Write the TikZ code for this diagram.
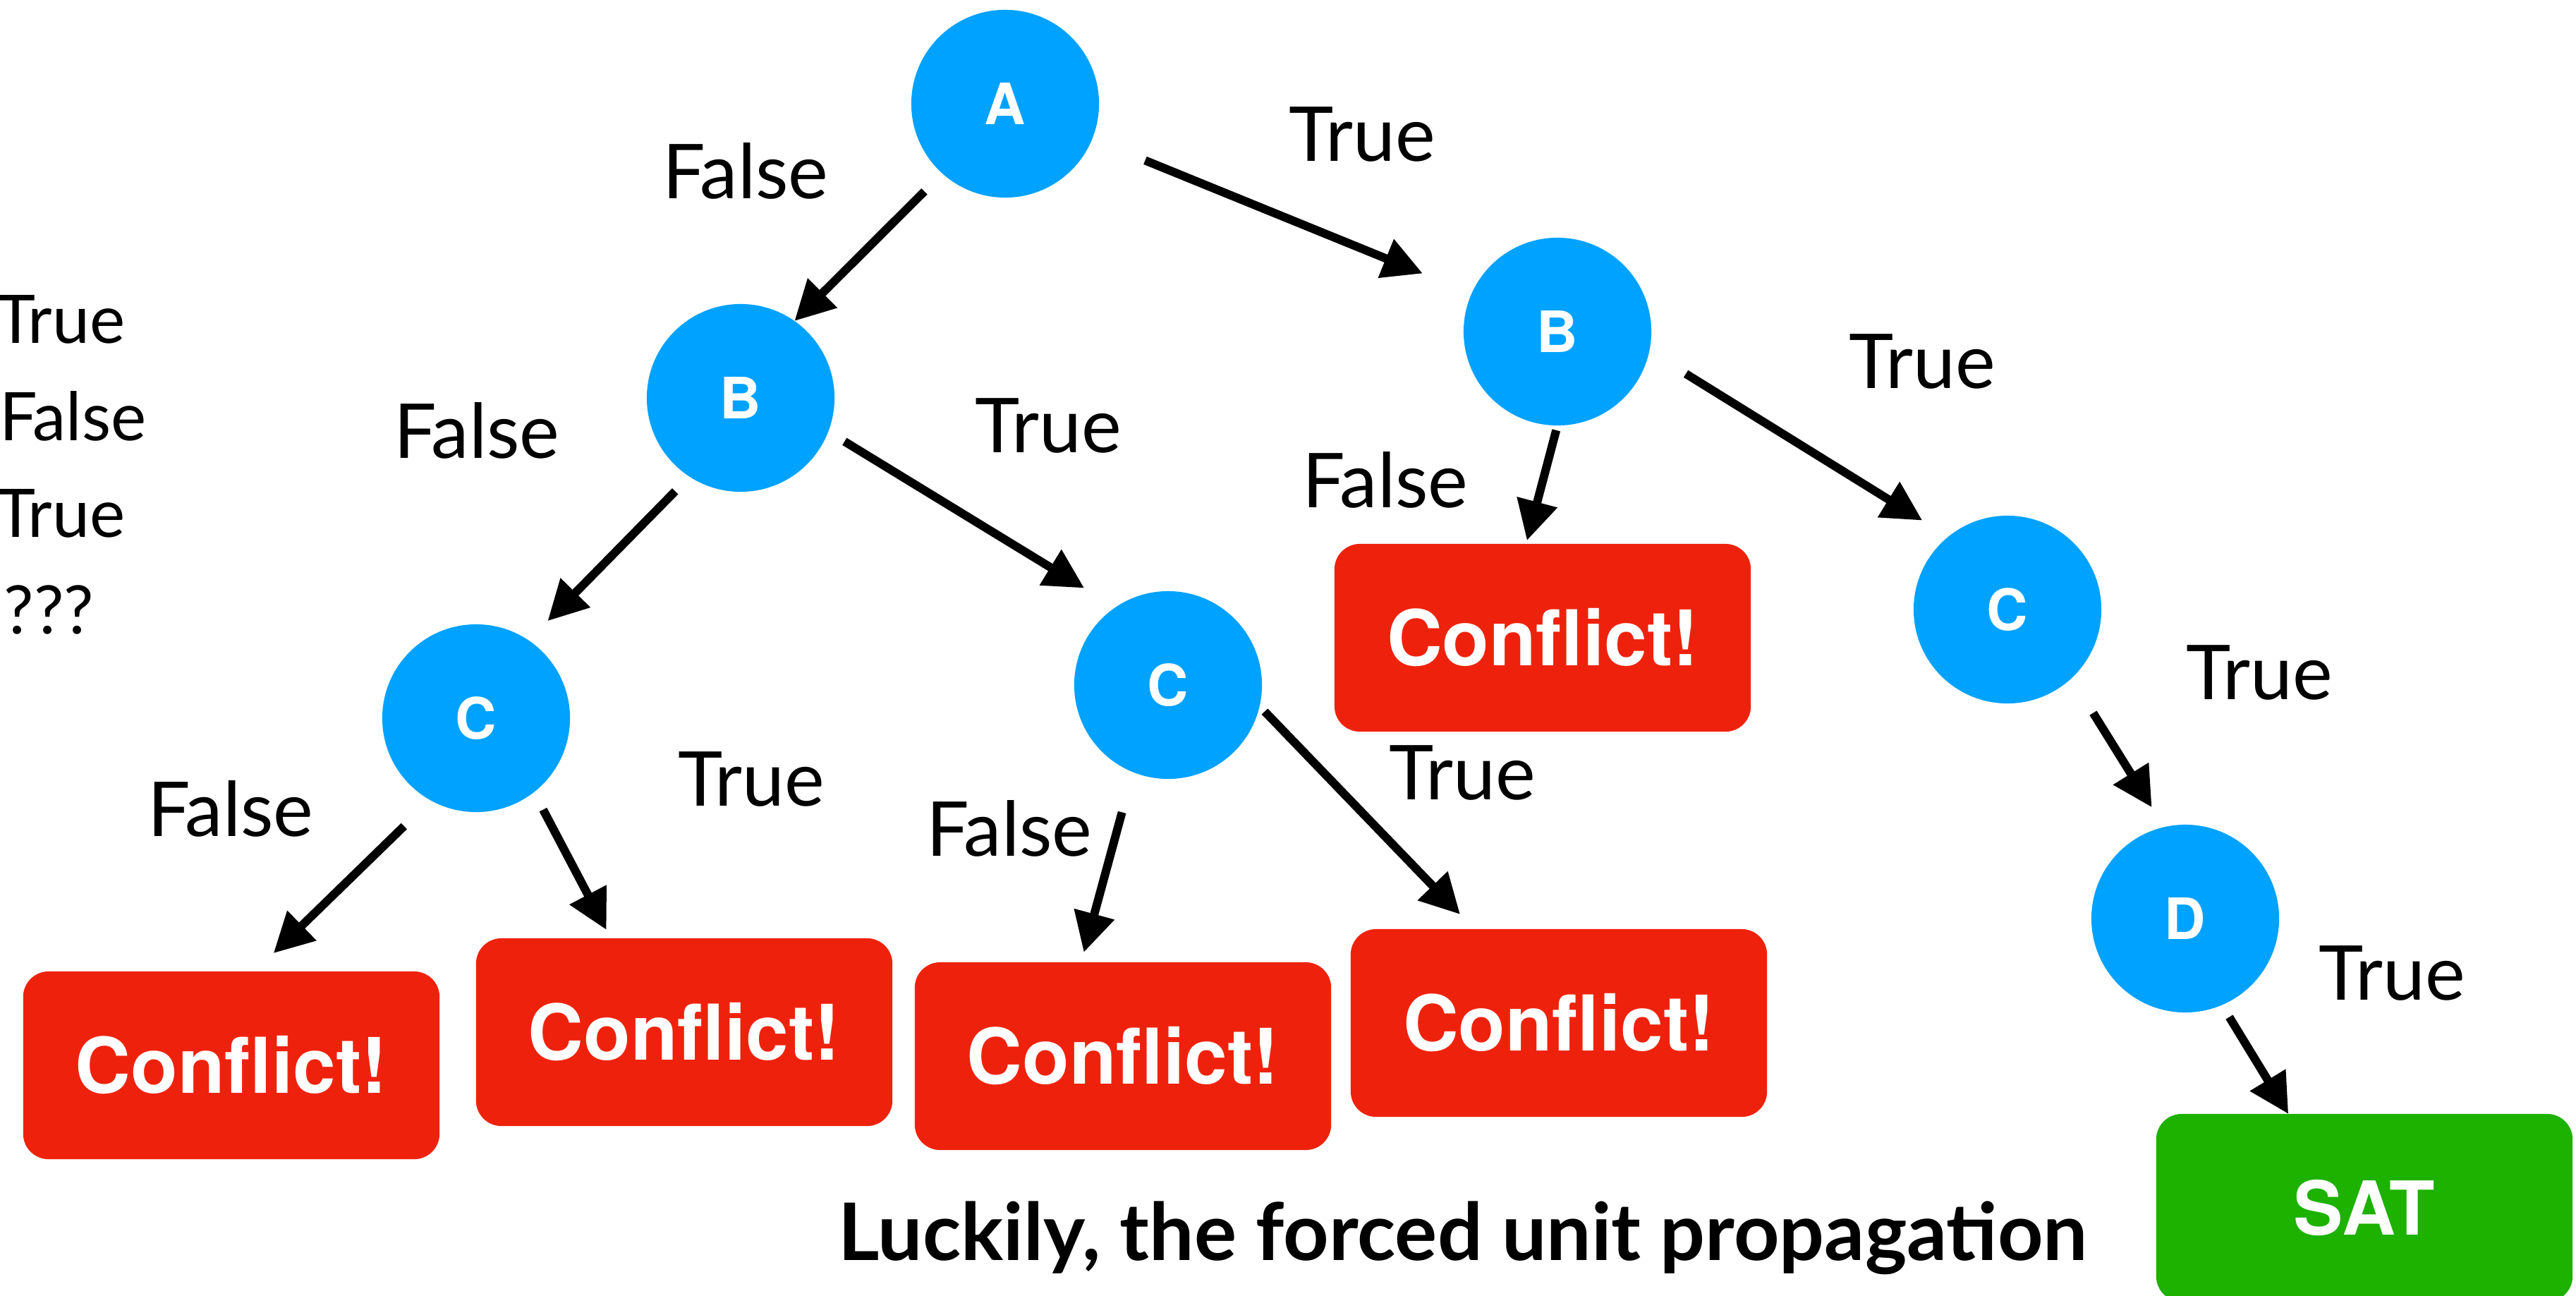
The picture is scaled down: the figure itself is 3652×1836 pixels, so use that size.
\documentclass[tikz,border=0pt]{standalone}
\usepackage{fontspec}
\setmainfont{Lato}
\newfontfamily\heros{TeX Gyre Heros}
\usetikzlibrary{arrows.meta}

\definecolor{nodeblue}{RGB}{0,162,255}
\definecolor{conflictred}{RGB}{238,34,12}
\definecolor{satgreen}{RGB}{29,177,0}

\tikzset{
  var/.style={circle, fill=nodeblue, minimum size=2.66cm, inner sep=0pt, outer sep=0pt,
    text=white, font=\heros\bfseries\fontsize{23}{23}\selectfont},
  result/.style={rectangle, rounded corners=0.36cm, minimum width=5.9cm, minimum height=2.66cm,
    inner sep=0pt, outer sep=0pt, text=white, font=\heros\bfseries\fontsize{31}{31}\selectfont},
  conflict/.style={result, fill=conflictred},
  satbox/.style={result, fill=satgreen, font=\heros\bfseries\fontsize{30}{30}\selectfont},
  edgelabel/.style={font=\fontsize{30.5}{36}\selectfont, inner sep=0pt},
  listitem/.style={font=\fontsize{27}{32}\selectfont, inner sep=0pt},
  branch/.style={line width=3.4pt, -{Triangle[length=16pt,width=16pt]}},
}

\begin{document}
\begin{tikzpicture}[x=0.01cm, y=-0.01cm]
  \useasboundingbox (0,0) rectangle (3652,1836);
  \clip (0,0) rectangle (3652,1836);

  % decision variables
  \node[var] (A)  at (1425,147)  {A};
  \node[var] (B1) at (1050,564)  {B};
  \node[var] (B2) at (2208,470)  {B};
  \node[var] (C1) at (675,1018)  {C};
  \node[var] (C2) at (1656,971)  {C};
  \node[var] (C3) at (2846,864)  {C};
  \node[var] (D)  at (3098,1302) {D};

  % outcomes
  \node[conflict] (K1) at (328,1510)  {Conflict!};
  \node[conflict] (K2) at (970,1463)  {Conflict!};
  \node[conflict] (K3) at (1592,1497) {Conflict!};
  \node[conflict] (K4) at (2210,1450) {Conflict!};
  \node[conflict] (K5) at (2187,904)  {Conflict!};
  \node[satbox]   (S)  at (3352,1712) {SAT};

  % branches
  \draw[branch, shorten <=0.36cm] (A.228) -- (B1.55);
  \draw[branch, shorten <=0.81cm, shorten >=0.75cm] (A.338) -- (B2.156);
  \draw[branch, shorten <=0.29cm, shorten >=0.385cm] (B1.237) -- (C1.56);
  \draw[branch, shorten <=0.27cm, shorten >=0.52cm] (B1.339) -- (C2.124);
  \draw[branch, shorten <=0.07cm, shorten >=0.05cm] (B2.270) -- (K5.100);
  \draw[branch, shorten <=0.61cm, shorten >=0.435cm] (B2.348) -- (C3.129);
  \draw[branch, shorten <=0.525cm, shorten >=0.37cm] (C1.241) -- (K1.76);
  \draw[branch, shorten <=0.28cm, shorten >=0.135cm] (C1.308) -- (K2.128);
  \draw[branch, shorten <=0.59cm, shorten >=0.145cm] (C2.248) -- (K3.114);
  \draw[branch, shorten <=0.105cm, shorten >=0.29cm] (C2.347) -- (K4.132);
  \draw[branch, shorten <=0.58cm, shorten >=0.33cm] (C3.313) -- (D.103);
  \draw[branch, shorten <=0.2cm] (D.293) -- (S.129);

  % branch labels
  \node[edgelabel] (lAf)  at (1057,242)  {False};
  \node[edgelabel] (lAt)  at (1931,191)  {True};
  \node[edgelabel] (lB1f) at (676,610)   {False};
  \node[edgelabel] (lB1t) at (1486,603)  {True};
  \node[edgelabel] (lB2f) at (1964,680)  {False};
  \node[edgelabel] (lB2t) at (2725,512)  {True};
  \node[edgelabel] (lC1f) at (327,1146)  {False};
  \node[edgelabel] (lC1t) at (1065,1104) {True};
  \node[edgelabel] (lC2f) at (1431,1174) {False};
  \node[edgelabel] (lC2t) at (2073,1095) {True};
  \node[edgelabel] (lC3t) at (3203,953)  {True};
  \node[edgelabel] (lDt)  at (3391,1379) {True};

  % current assignment list
  \node[listitem, anchor=base east] (v1) at (178,486) {True};
  \node[listitem, anchor=base east] (v2) at (208,624) {False};
  \node[listitem, anchor=base east] (v3) at (178,761) {True};
  \node[listitem, anchor=base east] (v4) at (134,898) {???};

  % caption
  \node[font=\bfseries\fontsize{32}{38}\selectfont, anchor=base, inner sep=0pt] (note)
    at (2074,1786) {Luckily, the forced unit propagation};
\end{tikzpicture}
\end{document}
